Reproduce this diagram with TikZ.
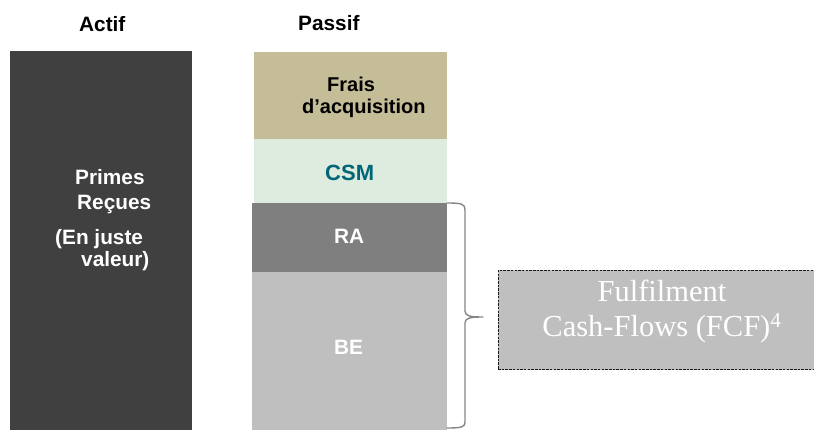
\documentclass[tikz,border=0pt]{standalone}
\usepackage{fontspec}
\setmainfont{Liberation Sans}
\newfontfamily\serifface{Liberation Serif}
\definecolor{actifgray}{HTML}{404040}
\definecolor{fraiskhaki}{HTML}{C4BD97}
\definecolor{csmgreen}{HTML}{DEEBDF}
\definecolor{csmteal}{HTML}{006678}
\definecolor{ragray}{HTML}{7F7F7F}
\definecolor{begray}{HTML}{BFBFBF}
\definecolor{bracegray}{HTML}{858585}
\begin{document}
\begin{tikzpicture}[x=1pt,y=-1pt,
  block/.style={draw=none, inner sep=0pt, outer sep=0pt, anchor=north west},
  lbl/.style={inner sep=0pt, anchor=base west, font=\bfseries\fontsize{20.8}{25}\selectfont},
  fcftext/.style={inner sep=0pt, anchor=base, text=white, font=\serifface\fontsize{30.5}{36}\selectfont},
  bracestyle/.style={draw=bracegray, line width=1.4pt, line cap=round, line join=round}]
  \useasboundingbox (0,0) rectangle (814,430);
  \clip (0,0) rectangle (814,430);

  % column headers
  \node[lbl] (hactif) at (79,32) {Actif};
  \node[lbl] (hpassif) at (298,31) {Passif};

  % assets column
  \node[block, fill=actifgray, minimum width=182pt, minimum height=379pt] (actif) at (10,51) {};
  \node[lbl, text=white] (t1) at (75,185) {Primes};
  \node[lbl, text=white] (t2) at (77,210) {Reçues};
  \node[lbl, text=white] (t3) at (55,245) {(En juste};
  \node[lbl, text=white] (t4) at (81,267) {valeur)};

  % liabilities column
  \node[block, fill=fraiskhaki, minimum width=193pt, minimum height=87pt] (frais) at (254,52) {};
  \node[block, fill=csmgreen, minimum width=193pt, minimum height=64pt] (csm) at (254,139) {};
  \node[block, fill=ragray, minimum width=195pt, minimum height=69pt] (ra) at (252,203) {};
  \node[block, fill=begray, minimum width=195pt, minimum height=158pt] (be) at (252,272) {};

  \node[lbl, font=\bfseries\fontsize{20}{24}\selectfont] (tfrais) at (327,92) {Frais};
  \node[lbl, font=\bfseries\fontsize{20}{24}\selectfont] (tacq) at (302,114) {d’acquisition};
  \node[lbl, text=csmteal, font=\bfseries\fontsize{22}{26}\selectfont] (tcsm) at (325,181) {CSM};
  \node[lbl, text=white] (tra) at (334,244) {RA};
  \node[lbl, text=white] (tbe) at (334,354) {BE};

  % brace grouping RA and BE
  \draw[bracestyle] (447,203) .. controls (462,203) and (465,204) .. (465,210)
    -- (465,311) .. controls (465,316) and (470,317) .. (483,317)
    .. controls (470,317) and (465,318) .. (465,323)
    -- (465,422) .. controls (465,427) and (462,428) .. (447,428);

  % fulfilment cash-flows box
  \node[block, fill=begray, draw=black!90, dashed, dash pattern=on 2.5pt off 1.2pt, line width=0.9pt,
        minimum width=330pt, minimum height=99pt] (fcf) at (498,270.5) {};
  \node[fcftext] (f1) at (662,302) {Fulfilment};
  \node[fcftext] (f2) at (662,337) {Cash-Flows (FCF)\textsuperscript{4}};
\end{tikzpicture}
\end{document}
